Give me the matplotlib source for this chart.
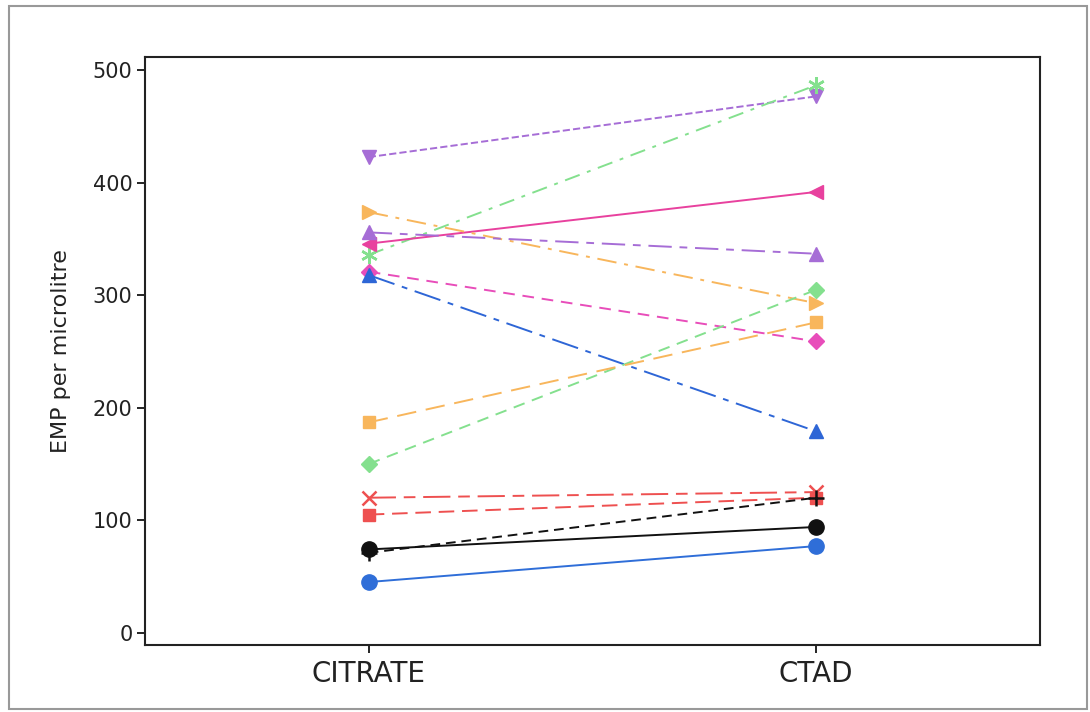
import matplotlib
matplotlib.use("Agg")
import matplotlib.pyplot as plt
from matplotlib.patches import Rectangle

categories = ["CITRATE", "CTAD"]
citrate = [423, 336, 346, 374, 356, 321, 318, 150, 187, 120, 105, 71, 74, 45]
ctad = [477, 487, 392, 293, 337, 259, 179, 305, 276, 125, 120, 120, 94, 77]
colors = ["#A66DD6", "#84E08E", "#E8419E", "#F8B65C", "#A66DD6", "#E84DBA", "#2E66D6",
          "#84E08E", "#F8B65C", "#EE5050", "#EE5050", "#111111", "#111111", "#2F6ED8"]
markers = ["v", (6, 2, 0), "<", ">", "^", "D", "^", "D", "s", "x", "s", "+", "o", "o"]
styles = ["--", (0, (8, 4, 2, 4)), "-", (0, (10, 4, 2, 4)), (0, (12, 4, 4, 4)), (0, (6, 4)),
          (0, (14, 4, 3, 4)), (0, (6, 4)), (0, (10, 5)), (0, (14, 4, 6, 4)), (0, (8, 4)),
          (0, (5, 3)), "-", "-"]
msizes = [10, 12, 10, 10, 10, 8, 10, 8, 9, 10, 9, 12, 11, 11]

plt.rcParams['font.family'] = ['DejaVu Sans']
fig = plt.figure(figsize=(10.9, 7.12), dpi=100)
ax = fig.add_axes([145/1090, (712-645)/712, (1040-145)/1090, (645-57)/712])

x = [1, 2]
for c1, c2, col, m, ls, ms in zip(citrate, ctad, colors, markers, styles, msizes):
    thin = m in ("x", "+") or isinstance(m, tuple)
    ax.plot(x, [c1, c2], color=col, linestyle=ls, linewidth=1.4, marker=m,
            markersize=ms, markeredgecolor=col, markerfacecolor=col,
            markeredgewidth=1.8 if thin else 1)

ax.set_xlim(0.5, 2.5)
ax.set_ylim(-11, 512)
ax.set_xticks(x)
ax.set_xticklabels(categories, fontsize=20, color="#222222")
ax.set_yticks([0, 100, 200, 300, 400, 500])
ax.tick_params(axis='y', labelsize=15, length=6, width=1.2, pad=3, labelcolor="#222222")
ax.tick_params(axis='x', length=6, width=1.2, pad=5)
ax.set_ylabel("EMP per microlitre", fontsize=16, labelpad=16, color="#222222")
for s in ax.spines.values():
    s.set_linewidth(1.5)
    s.set_color("#222222")

fig.patches.append(Rectangle((9/1090, 3/712), (1087-9)/1090, (706-3)/712,
                             transform=fig.transFigure, fill=False,
                             edgecolor="#999999", linewidth=1.5))

fig.savefig("out.png", dpi=100)
